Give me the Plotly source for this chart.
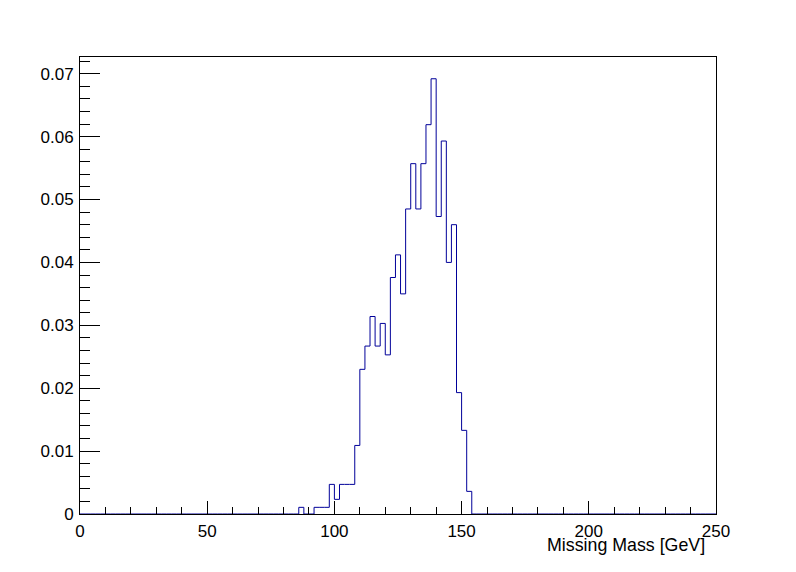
import numpy as np
import plotly.graph_objects as go

# Histogram: 125 bins of 2 GeV from 0 to 250; non-zero region starts at 86 GeV
bin_width = 2.0
x_min, x_max = 0.0, 250.0
first_bin_low = 86.0
bin_values = [
    0.00106, 0.0, 0.0, 0.00106, 0.00106, 0.00106,   # 86..96
    0.00471, 0.00233, 0.00471, 0.00471, 0.00471,    # 98..106
    0.0109, 0.0230, 0.0267, 0.0314, 0.0267,         # 108..116
    0.0303, 0.0253, 0.0376, 0.0412, 0.0350,         # 118..126
    0.0485, 0.0557, 0.0485, 0.0557, 0.0619,         # 128..136
    0.0692, 0.0473, 0.0593, 0.0400, 0.0460,         # 138..146
    0.0193, 0.0133, 0.0036,                         # 148..152
]
x_tick_vals = [0, 50, 100, 150, 200, 250]
x_tick_text = ["0", "50", "100", "150", "200", "250"]
y_tick_vals = [0, 0.01, 0.02, 0.03, 0.04, 0.05, 0.06, 0.07]
y_tick_text = ["0", "0.01", "0.02", "0.03", "0.04", "0.05", "0.06", "0.07"]
x_title = "Missing Mass [GeV]"

n_bins = int(round((x_max - x_min) / bin_width))
edges = x_min + bin_width * np.arange(n_bins + 1)
contents = np.zeros(n_bins)
start = int(round((first_bin_low - x_min) / bin_width))
contents[start:start + len(bin_values)] = bin_values
y_step = np.append(contents, contents[-1])

y_max = contents.max() * 1.05

fig = go.Figure()
fig.add_trace(go.Scatter(
    x=edges, y=y_step, mode="lines", line_shape="hv",
    line=dict(color="#000099", width=1), hoverinfo="skip", showlegend=False,
))

font_family = "Liberation Sans, Arial, Helvetica, sans-serif"
fig.update_layout(
    width=796, height=572,
    margin=dict(l=72, r=88, t=49, b=66, pad=0),
    paper_bgcolor="white", plot_bgcolor="white",
    font=dict(family=font_family, size=17, color="black"),
    showlegend=False,
)
fig.update_xaxes(
    range=[x_min, x_max], showgrid=False, zeroline=False,
    showline=True, linecolor="black", linewidth=1, mirror=True,
    ticks="inside", ticklen=13, tickwidth=1, tickcolor="black",
    tickvals=x_tick_vals, ticktext=x_tick_text,
    minor=dict(ticks="inside", ticklen=7, tickwidth=1, tickcolor="black", dtick=10, tick0=0, showgrid=False),
    ticklabelstandoff=2,
    tickfont=dict(size=17),
)
fig.update_yaxes(
    range=[0, y_max], showgrid=False, zeroline=False,
    showline=True, linecolor="black", linewidth=1, mirror=True,
    ticks="inside", ticklen=20, tickwidth=1, tickcolor="black",
    tickvals=y_tick_vals, ticktext=y_tick_text,
    minor=dict(ticks="inside", ticklen=10, tickwidth=1, tickcolor="black", dtick=0.002, tick0=0, showgrid=False),
    ticklabelstandoff=2,
    tickfont=dict(size=17),
)
fig.add_annotation(
    text=x_title, xref="paper", yref="paper",
    x=(707 - 80) / 636, y=-(545 - 514) / 457,
    xanchor="right", yanchor="middle", showarrow=False,
    font=dict(family=font_family, size=17.8, color="black"),
)

fig.write_html("out.html")
